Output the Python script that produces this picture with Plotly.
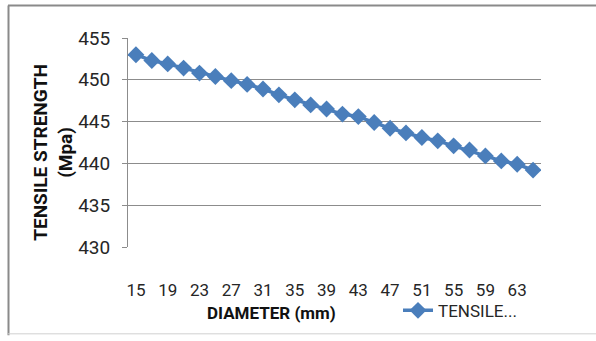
import plotly.graph_objects as go

diameters = [15, 17, 19, 21, 23, 25, 27, 29, 31, 33, 35, 37, 39, 41, 43, 45, 47, 49, 51, 53, 55, 57, 59, 61, 63, 65]
tensile = [453.0, 452.3, 451.9, 451.4, 450.8, 450.4, 449.9, 449.45, 448.9, 448.2, 447.6, 447.0, 446.5,
           445.9, 445.6, 444.9, 444.2, 443.65, 443.1, 442.7, 442.1, 441.6, 440.9, 440.3, 439.9, 439.2]
y_ticks = [430, 435, 440, 445, 450, 455]
series_name = "TENSILE..."

cats = [str(d) for d in diameters]
FONT = "Roboto, Open Sans, sans-serif"

W, H = 596, 341
L, R, T, B = 128, 55, 38, 90
pw, ph = W - L - R, H - T - B

def px_x(px):
    return (px - L) / pw

def px_y(py):
    return (H - B - py) / ph

fig = go.Figure()
fig.add_trace(go.Scatter(
    x=cats, y=tensile, mode="lines+markers", name=series_name,
    line=dict(color="#4A7EBB", width=3.5),
    marker=dict(symbol="diamond", size=13, color="#4A7EBB"),
))

fig.update_layout(
    width=W, height=H,
    margin=dict(l=L, r=R, t=T, b=B),
    paper_bgcolor="white", plot_bgcolor="white",
    font=dict(family=FONT, color="#262626"),
    showlegend=True,
    legend=dict(x=px_x(398), y=px_y(316), xanchor="left", yanchor="middle",
                orientation="h", font=dict(size=17, color="#262626"),
                bgcolor="rgba(0,0,0,0)"),
    xaxis=dict(type="category", categoryorder="array", categoryarray=cats,
               tickmode="array", tickvals=cats[::2],
               showgrid=False, showline=False, ticks="", zeroline=False,
               tickfont=dict(size=17, color="#262626"), ticklabelstandoff=31,
               range=[-0.5, len(cats) - 0.5]),
    yaxis=dict(range=[430, 455], tickmode="array", tickvals=y_ticks,
               showgrid=True, gridcolor="#8c8c8c", gridwidth=1,
               showline=True, linecolor="#8c8c8c", linewidth=1,
               ticks="outside", ticklen=5, tickcolor="#8c8c8c",
               tickfont=dict(size=19, color="#262626"), ticklabelstandoff=8,
               zeroline=False),
    annotations=[
        dict(text="<b>DIAMETER (mm)</b>", xref="paper", yref="paper",
             x=px_x(271), y=px_y(318), showarrow=False, xanchor="center", yanchor="middle",
             font=dict(size=17, color="#111111")),
        dict(text="<b>TENSILE STRENGTH<br>(Mpa)</b>", xref="paper", yref="paper",
             x=px_x(53), y=px_y(155), showarrow=False, xanchor="center", yanchor="middle",
             textangle=-90, font=dict(size=19, color="#111111")),
    ],
    shapes=[
        dict(type="line", xref="paper", yref="paper", x0=px_x(8), x1=px_x(600),
             y0=px_y(5), y1=px_y(5), line=dict(color="#8a8a8a", width=2)),
        dict(type="line", xref="paper", yref="paper", x0=px_x(8.5), x1=px_x(8.5),
             y0=px_y(5), y1=px_y(341), line=dict(color="#8a8a8a", width=2)),
        dict(type="line", xref="paper", yref="paper", x0=px_x(8), x1=px_x(600),
             y0=px_y(339.5), y1=px_y(339.5), line=dict(color="#d0d0d0", width=1)),
    ],
)

fig.write_html("out.html")
